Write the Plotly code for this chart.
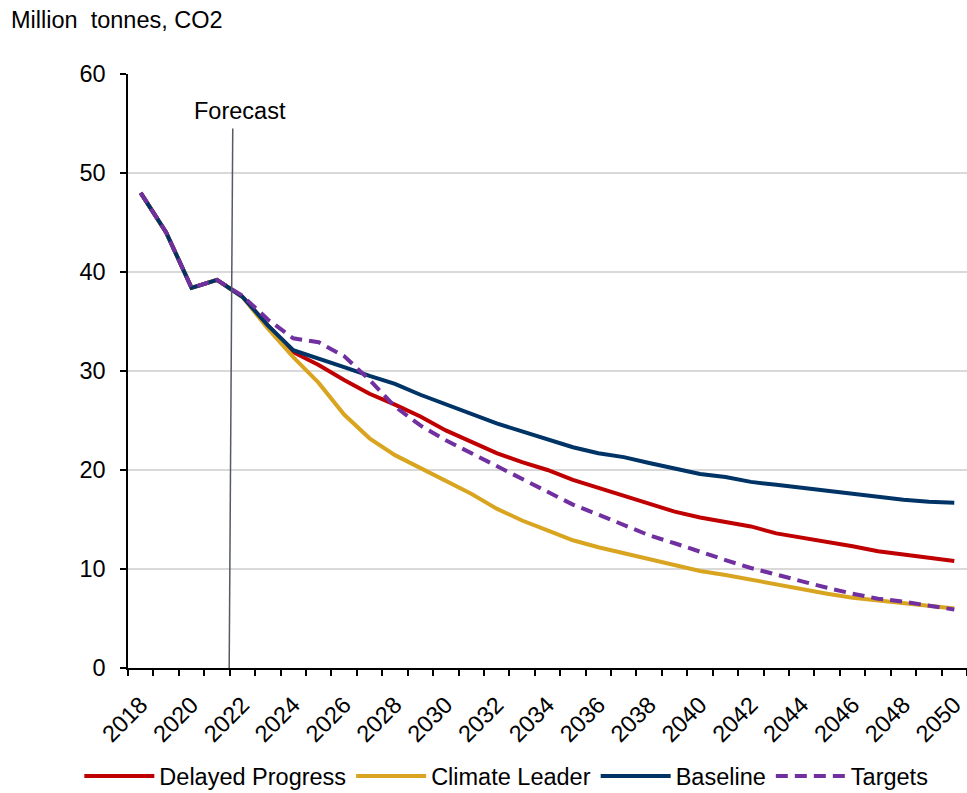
import plotly.graph_objects as go

# Emissions pathways, million tonnes CO2
years = list(range(2018, 2051))

delayed_progress = [48.0, 44.0, 38.4, 39.2, 37.5, 34.6, 31.9, 30.6, 29.1, 27.7, 26.6,
                    25.4, 24.0, 22.8, 21.7, 20.8, 20.0, 19.0, 18.2, 17.4, 16.6, 15.8,
                    15.2, 14.8, 14.3, 13.6, 13.2, 12.7, 12.3, 11.8, 11.5, 11.2, 10.8]
climate_leader = [48.0, 44.0, 38.4, 39.2, 37.5, 34.3, 31.4, 28.8, 25.6, 23.2, 21.5,
                  20.2, 18.8, 17.6, 16.1, 14.9, 13.9, 12.9, 12.2, 11.6, 11.1, 10.5,
                  9.8, 9.4, 8.9, 8.4, 7.9, 7.5, 7.1, 6.8, 6.5, 6.2, 6.0]
baseline = [48.0, 44.0, 38.4, 39.2, 37.5, 34.6, 32.1, 31.3, 30.4, 29.5, 28.7,
            27.6, 26.6, 25.6, 24.7, 23.9, 23.1, 22.3, 21.7, 21.3, 20.7, 20.2,
            19.6, 19.3, 18.8, 18.5, 18.2, 17.8, 17.5, 17.3, 17.0, 16.8, 16.7]
targets = [48.0, 44.0, 38.4, 39.2, 37.6, 35.2, 33.3, 32.9, 31.5, 29.1, 26.4,
           24.5, 23.0, 21.7, 20.3, 19.0, 17.7, 16.5, 15.5, 14.5, 13.4, 12.6,
           11.7, 10.9, 10.1, 9.4, 8.7, 8.1, 7.5, 7.0, 6.7, 6.3, 5.9]

x_labels = [str(y) for y in range(2018, 2051, 2)]
y_ticks = [0, 10, 20, 30, 40, 50, 60]

FONT = "Arial, 'Liberation Sans', sans-serif"
FS = 23.5

series = [
    ("Delayed Progress", delayed_progress, "#C00000", "solid"),
    ("Climate Leader", climate_leader, "#D9A520", "solid"),
    ("Baseline", baseline, "#003366", "solid"),
    ("Targets", targets, "#7030A0", "12px,7px"),
]

fig = go.Figure()
for name, vals, color, dash in series:
    fig.add_trace(go.Scatter(
        x=years, y=vals, name=name, mode="lines",
        line=dict(color=color, width=4, dash=dash),
    ))

# Forecast divider
fig.add_shape(type="line", xref="x", yref="y",
              x0=2021.48, y0=0, x1=2021.62, y1=54.5,
              line=dict(color="#555a63", width=1.5), layer="above")
fig.add_annotation(text="Forecast", x=2021.92, y=56.3, xref="x", yref="y",
                   showarrow=False, font=dict(size=FS, color="black", family=FONT))

fig.add_annotation(text="Million\u00a0 tonnes, CO2", xref="paper", yref="paper",
                   x=-0.1418, y=1.091, xanchor="left", yanchor="middle",
                   showarrow=False, font=dict(size=FS, color="black", family=FONT))

fig.update_layout(
    width=967, height=793,
    margin=dict(l=128, r=0, t=74, b=125, autoexpand=False),
    paper_bgcolor="white", plot_bgcolor="white",
    font=dict(family=FONT, size=FS, color="black"),
    showlegend=True,
    legend=dict(orientation="h", x=-0.058, xanchor="left", y=-0.145, yanchor="top",
                itemwidth=70, font=dict(size=FS), tracegroupgap=0,
                bgcolor="rgba(0,0,0,0)"),
)
fig.update_xaxes(
    range=[2017.5, 2050.5], tickmode="array", tickvals=[int(v) for v in x_labels],
    ticktext=x_labels, tickangle=-45, ticks="", showgrid=False,
    showline=True, linecolor="black", linewidth=1.5,
    minor=dict(tick0=2017.5, dtick=1, ticks="outside", ticklen=6,
               tickcolor="black", tickwidth=1.5, showgrid=False),
    tickfont=dict(size=FS, family=FONT), zeroline=False,
    automargin=False, ticklabelstandoff=12,
)
fig.update_yaxes(
    range=[0, 60], tickmode="array", tickvals=y_ticks, ticks="outside",
    ticklen=6, tickcolor="black", tickwidth=1.5,
    showline=True, linecolor="black", linewidth=1.5,
    showgrid=True, gridcolor="#d9d9d9", gridwidth=1.5,
    zeroline=False, tickfont=dict(size=FS, family=FONT), ticklabelstandoff=10,
    automargin=False,
)

fig.write_html("out.html")
